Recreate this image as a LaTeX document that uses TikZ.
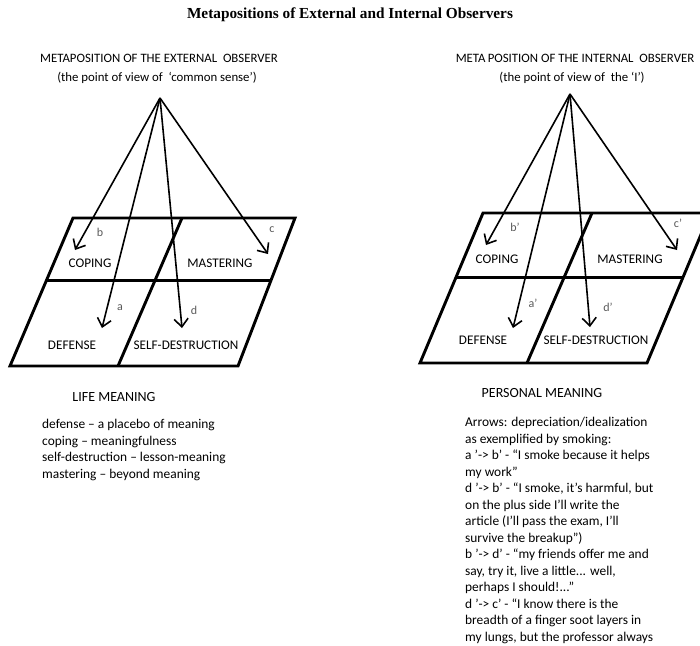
\documentclass[tikz,border=0pt]{standalone}
\usepackage{fontspec}
\setmainfont{Carlito}
\newfontfamily\headfont{Liberation Serif}
\usetikzlibrary{arrows.meta,positioning,calc}

\begin{document}
\begin{tikzpicture}[x=1pt,y=-1pt,
field/.style={
  line width=2.9pt,
  line join=miter
},
ray/.style={
  line width=1.6pt,
  -{Straight Barb[length=8pt,width=14pt,line width=1.6pt]}
},
cell/.style={
  font=\fontsize{13.2}{15}\selectfont,
  inner sep=1pt
},
tag/.style={
  font=\fontsize{12}{14}\selectfont,
  text=black!65,
  inner sep=1pt
},
head/.style={
  font=\fontsize{12.8}{15}\selectfont,
  inner sep=1pt
},
notes/.style={
  font=\fontsize{13.4}{16.5}\selectfont,
  align=left,
  inner sep=0pt,
  anchor=north west
}
]
\useasboundingbox (0,0) rectangle (700,645);

\node[font=\headfont\bfseries\fontsize{15.3}{18}\selectfont] (title) at (350,15)
  {Metapositions of External and Internal Observers};

% external observer
\node[head] (extA) at (159,58) {METAPOSITION OF THE EXTERNAL\ \ OBSERVER};
\node[head] (extB) at (157,78) {(the point of view of\ \ ‘common sense’)};

\coordinate (eTL) at (73,218);
\coordinate (eTR) at (295,218);
\coordinate (eBR) at (238,366);
\coordinate (eBL) at (10,366);
\coordinate (eMT) at (182,218);
\coordinate (eMB) at (118,366);
\draw[field] (eTL) -- (eTR) -- (eBR) -- (eBL) -- cycle;
\draw[field] ($(eTL)!0.42!(eBL)$) -- ($(eTR)!0.42!(eBR)$);
\draw[field] (eMT) -- (eMB);

\node[cell] (eCop) at (90,263) {COPING};
\node[cell] (eMas) at (220,263) {MASTERING};
\node[cell] (eDef) at (72,345) {DEFENSE};
\node[cell] (eSel) at (186,345) {SELF-DESTRUCTION};

\coordinate (eTop) at (160,98);
\coordinate (eb) at (75,250);
\coordinate (ea) at (102,328);
\coordinate (ed) at (182,328);
\coordinate (ec) at (268,254);
\draw[ray] (eTop) -- (eb);
\draw[ray] (eTop) -- (ea);
\draw[ray] (eTop) -- (ed);
\draw[ray] (eTop) -- (ec);

\node[tag] (lb) at (100,232) {b};
\node[tag] (lc) at (272,230) {c};
\node[tag] (la) at (120,308) {a};
\node[tag] (ld) at (194,310) {d};

\node[font=\fontsize{14}{16}\selectfont] (life) at (114,397) {LIFE MEANING};
\node[notes] (lifeTxt) at (42,419) {defense – a placebo of meaning\\
coping – meaningfulness\\
self-destruction – lesson-meaning\\
mastering – beyond meaning};

% internal observer
\node[head] (intA) at (575,58) {META\,POSITION OF THE INTERNAL\ \ OBSERVER};
\node[head] (intB) at (572,78) {(the point of view of\ \ the ‘I’)};

\coordinate (iTL) at (483,213);
\coordinate (iTR) at (710,213);
\coordinate (iBR) at (647,363);
\coordinate (iBL) at (420,363);
\coordinate (iMT) at (592,213);
\coordinate (iMB) at (527,363);
\draw[field] (iTL) -- (iTR) -- (iBR) -- (iBL) -- cycle;
\draw[field] ($(iTL)!0.427!(iBL)$) -- ($(iTR)!0.427!(iBR)$);
\draw[field] (iMT) -- (iMB);

\node[cell] (iCop) at (497,259) {COPING};
\node[cell] (iMas) at (630,259) {MASTERING};
\node[cell] (iDef) at (483,340) {DEFENSE};
\node[cell] (iSel) at (596,340) {SELF-DESTRUCTION};

\coordinate (iTop) at (570,94);
\coordinate (ib) at (486,245);
\coordinate (ia) at (513,328);
\coordinate (id) at (590,327);
\coordinate (ic) at (677,250);
\draw[ray] (iTop) -- (ib);
\draw[ray] (iTop) -- (ia);
\draw[ray] (iTop) -- (id);
\draw[ray] (iTop) -- (ic);

\node[tag] (pb) at (515,227) {b’};
\node[tag] (pc) at (678,223) {c’};
\node[tag] (pa) at (533,303) {a’};
\node[tag] (pd) at (608,307) {d’};

\node[font=\fontsize{14}{16}\selectfont] (pers) at (542,393) {PERSONAL MEANING};
\node[notes] (persTxt) at (465,417) {Arrows: depreciation/idealization\\
as exemplified by smoking:\\
a ’-> b’ - “I smoke because it helps\\
my work”\\
d ’-> b’ - “I smoke, it’s harmful, but\\
on the plus side I’ll write the\\
article (I’ll pass the exam, I’ll\\
survive the breakup”)\\
b ’-> d’ - “my friends offer me and\\
say, try it, live a little... well,\\
perhaps I should!...”\\
d ’-> c’ - “I know there is the\\
breadth of a finger soot layers in\\
my lungs, but the professor always};
\end{tikzpicture}
\end{document}
